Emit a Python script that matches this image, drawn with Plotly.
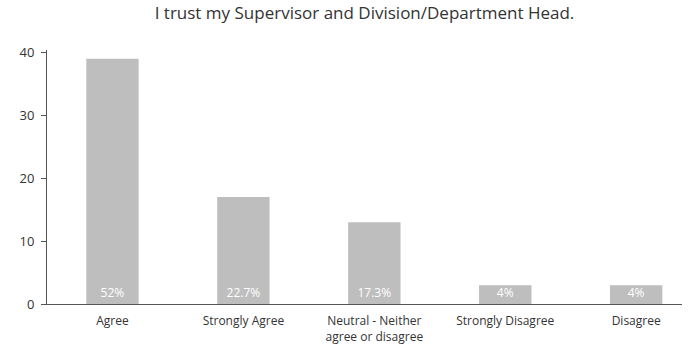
import plotly.graph_objects as go

categories = ["Agree", "Strongly Agree", "Neutral - Neither<br>agree or disagree", "Strongly Disagree", "Disagree"]
counts = [39, 17, 13, 3, 3]
pct_labels = ["52%", "22.7%", "17.3%", "4%", "4%"]
y_ticks = [0, 10, 20, 30, 40]

fig = go.Figure(go.Bar(
    x=categories, y=counts, text=pct_labels,
    textposition="inside", insidetextanchor="start", constraintext="none",
    textangle=0,
    textfont=dict(color="white", size=12, family="Open Sans"),
    marker=dict(color="#bebebe", line=dict(width=0)),
    width=0.4,
))

fig.update_layout(
    width=694, height=352,
    margin=dict(l=47, r=12, t=50, b=48, autoexpand=False),
    paper_bgcolor="white", plot_bgcolor="white",
    font=dict(family="Open Sans", color="#333333", size=12),
    title=dict(text="I trust my Supervisor and Division/Department Head.",
               x=0.5, xref="paper", y=0.962, yref="container", yanchor="middle",
               font=dict(size=17, color="#333333")),
    showlegend=False,
    bargap=0.6,
)
fig.update_xaxes(range=[-0.5, 4.35], showline=True, linecolor="#555555", linewidth=1,
                 ticks="", showgrid=False, tickfont=dict(size=12), ticklabelstandoff=6,
                 automargin=False)
fig.update_yaxes(range=[0, 40.4], tickvals=y_ticks, showline=True, linecolor="#555555",
                 linewidth=1, ticks="outside", ticklen=5, tickcolor="#555555",
                 showgrid=False, zeroline=False, tickfont=dict(size=13), ticklabelstandoff=4,
                 automargin=False)

fig.write_html("out.html")
